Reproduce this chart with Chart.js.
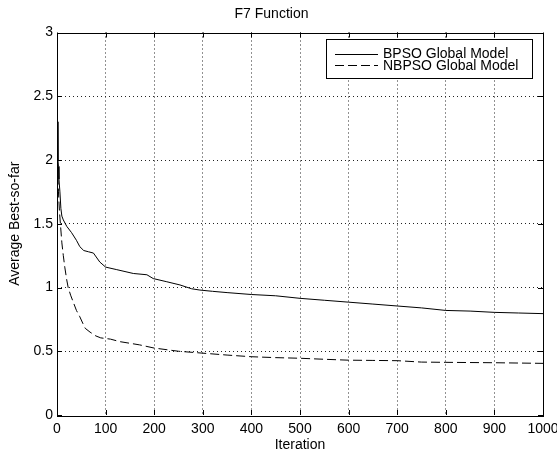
<!DOCTYPE html>
<html>
<head>
<meta charset="utf-8">
<script src="https://cdn.jsdelivr.net/npm/chart.js@4"></script>
<style>
html,body{margin:0;padding:0;background:#fff;}
canvas{display:block;}
</style>
</head>
<body>
<canvas id="c" width="557" height="457"></canvas>
<script>
const chartTitle = "F7 Function";
const xTitle = "Iteration";
const yTitle = "Average Best-so-far";
const seriesNames = ["BPSO Global Model", "NBPSO Global Model"];

const bpsoIter = [1,2,3,4,6,8,10,13,20,30,40,47,55,65,75,88,100,123,157,185,198,226,253,277,294,320,350,400,450,500,550,600,650,700,750,800,850,900,950,1000];
const bpsoVal  = [2.30,2.00,1.95,1.85,1.75,1.62,1.56,1.53,1.48,1.43,1.37,1.32,1.29,1.28,1.27,1.20,1.16,1.14,1.11,1.10,1.07,1.045,1.02,0.99,0.98,0.97,0.96,0.945,0.935,0.915,0.90,0.885,0.87,0.855,0.84,0.82,0.815,0.805,0.80,0.795];

const nbpsoIter = [1,3,5,7,10,13,16,20,23,28,34,40,47,53,58,68,80,90,110,130,170,200,250,300,350,400,450,500,550,600,650,700,750,800,900,1000];
const nbpsoVal  = [1.98,1.75,1.60,1.50,1.35,1.25,1.16,1.06,1.00,0.94,0.88,0.82,0.77,0.72,0.68,0.65,0.62,0.605,0.595,0.575,0.55,0.525,0.50,0.485,0.47,0.457,0.45,0.445,0.437,0.43,0.428,0.426,0.415,0.413,0.41,0.405];

const xMin = 0, xMax = 1000, xStep = 100;
const yMin = 0, yMax = 3, yStep = 0.5;

const FONT = "'Liberation Sans', Arial, sans-serif";
const FS = 14;

function pts(xs, ys){ return xs.map((x,i)=>({x:x, y:ys[i]})); }

const boxPlugin = {
  id: 'matlabBox',
  afterDraw(chart){
    const {ctx, chartArea:a, scales:{x, y}} = chart;
    ctx.save();
    ctx.strokeStyle = '#000';
    ctx.lineWidth = 1;
    ctx.setLineDash([]);
    ctx.strokeRect(Math.round(a.left)+0.5, Math.round(a.top)+0.5, Math.round(a.right-a.left), Math.round(a.bottom-a.top));
    const tl = 5;
    ctx.beginPath();
    x.ticks.forEach(t=>{
      const px = Math.round(x.getPixelForValue(t.value))+0.5;
      ctx.moveTo(px, a.bottom); ctx.lineTo(px, a.bottom-tl);
      ctx.moveTo(px, a.top); ctx.lineTo(px, a.top+tl);
    });
    y.ticks.forEach(t=>{
      const py = Math.round(y.getPixelForValue(t.value))+0.5;
      ctx.moveTo(a.left, py); ctx.lineTo(a.left+tl, py);
      ctx.moveTo(a.right, py); ctx.lineTo(a.right-tl, py);
    });
    ctx.stroke();
    // legend
    const lw = 206, lh = 39;
    const lx = Math.round(a.right - 11 - lw), ly = Math.round(a.top + 6);
    ctx.fillStyle = '#fff';
    ctx.fillRect(lx, ly, lw, lh);
    ctx.strokeRect(lx+0.5, ly+0.5, lw, lh);
    ctx.font = FS + "px " + FONT;
    ctx.textBaseline = 'middle';
    ctx.textAlign = 'left';
    ctx.fillStyle = '#000';
    chart.data.datasets.forEach((ds, i)=>{
      const rowY = ly + 14.5 + i*11.5;
      ctx.beginPath();
      ctx.setLineDash(ds.borderDash || []);
      ctx.moveTo(lx+9, Math.round(rowY)+0.5);
      ctx.lineTo(lx+52, Math.round(rowY)+0.5);
      ctx.stroke();
      ctx.setLineDash([]);
      ctx.fillText(ds.label, lx+57, rowY+1);
    });
    ctx.restore();
  }
};

new Chart(document.getElementById('c'), {
  type: 'line',
  data: {
    datasets: [
      { label: seriesNames[0], data: pts(bpsoIter, bpsoVal), borderColor:'#000', borderWidth:1, pointRadius:0, fill:false, tension:0 },
      { label: seriesNames[1], data: pts(nbpsoIter, nbpsoVal), borderColor:'#000', borderWidth:1, pointRadius:0, fill:false, tension:0, borderDash:[9,4] }
    ]
  },
  options: {
    responsive: false,
    animation: false,
    devicePixelRatio: 1,
    layout: { padding: { left: 0, right: 14, top: 0, bottom: 0 } },
    plugins: {
      legend: { display: false },
      tooltip: { enabled: false },
      title: { display: true, text: chartTitle, color:'#000', font: { family: FONT, size: FS, weight: 'normal', lineHeight: 1.15 }, padding: { top: 6, bottom: 10.4 } }
    },
    scales: {
      x: {
        type: 'linear', min: xMin, max: xMax,
        ticks: { stepSize: xStep, color:'#000', font:{family:FONT, size:FS}, padding: 6, maxRotation:0, autoSkip:false, callback: v => String(v) },
        grid: { drawTicks:false, lineWidth:1, color: c => (c.tick && (c.tick.value===xMin || c.tick.value===xMax)) ? 'rgba(0,0,0,0)' : '#222' },
        border: { display:false, dash:[1,3] },
        title: { display:true, text:xTitle, color:'#000', font:{family:FONT, size:FS, lineHeight:1.15}, padding:{top:0, bottom:4} },
        afterFit(s){ s.height = 42; s.paddingLeft = 0; s.paddingRight = 0; }
      },
      y: {
        type: 'linear', min: yMin, max: yMax,
        ticks: { stepSize: yStep, color:'#000', font:{family:FONT, size:FS}, padding: 4, callback: v => String(v) },
        grid: { drawTicks:false, lineWidth:1, color: c => (c.tick && (c.tick.value===yMin || c.tick.value===yMax)) ? 'rgba(0,0,0,0)' : '#222' },
        border: { display:false, dash:[1,3] },
        title: { display:true, text:yTitle, color:'#000', font:{family:FONT, size:FS, lineHeight:1.15}, padding:{top:7, bottom:0} },
        afterFit(s){ s.width = 57; s.paddingTop = 0; s.paddingBottom = 0; }
      }
    }
  },
  plugins: [boxPlugin]
});
</script>
</body>
</html>
